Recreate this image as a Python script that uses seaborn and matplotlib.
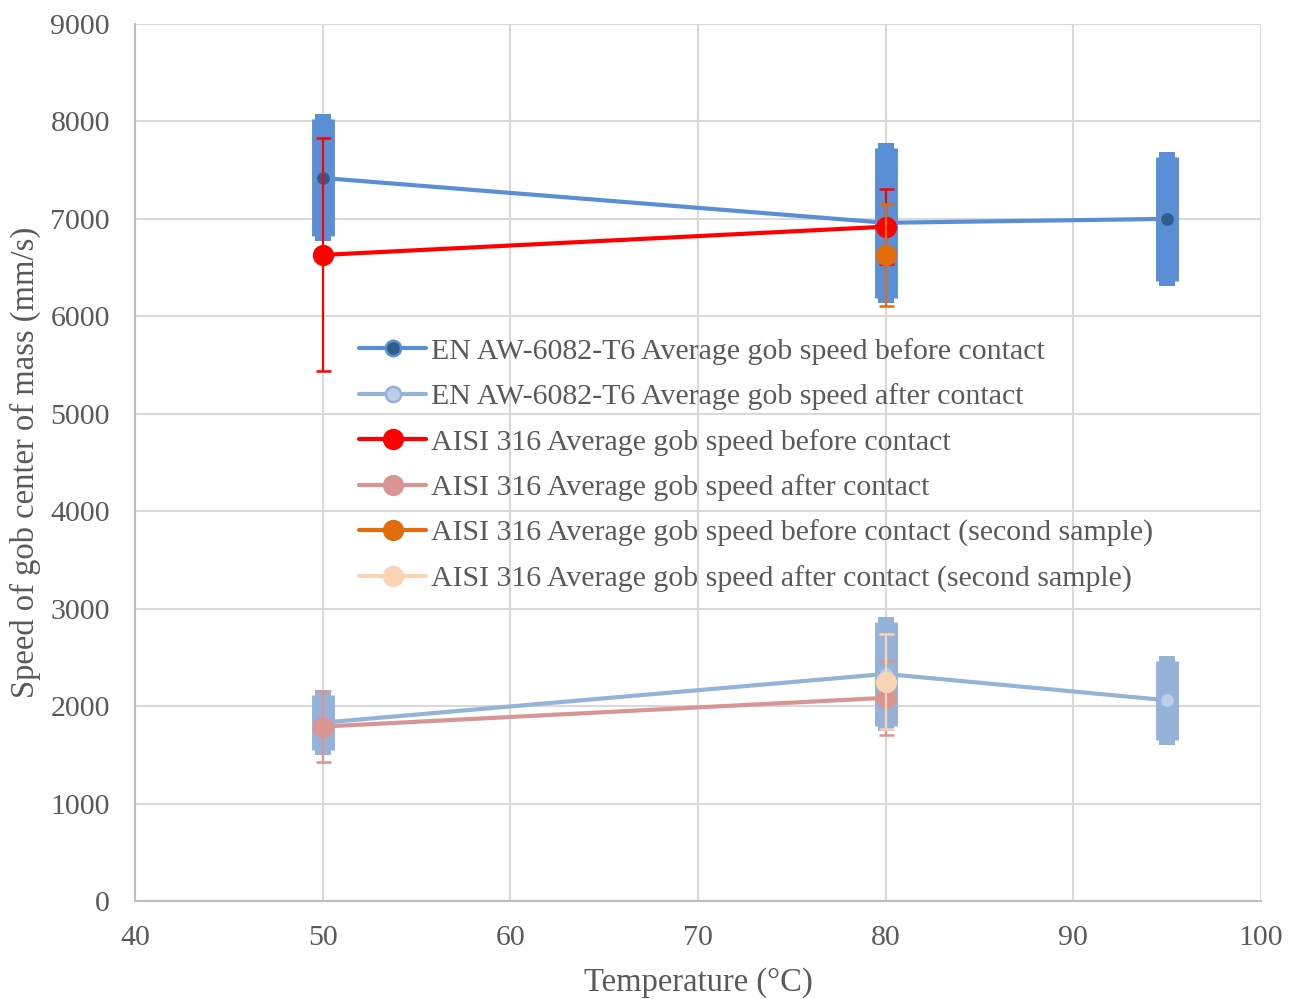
import matplotlib
matplotlib.use("Agg")
import matplotlib.pyplot as plt
import seaborn as sns

# Gob speed measurements (mm/s) versus die temperature (°C)
temps_al = [50, 80, 95]
al_before = [7420, 6960, 7000]
al_before_err = [600, 770, 636]
al_after = [1830, 2330, 2060]
al_after_err = [285, 530, 405]

temps_ss = [50, 80]
ss_before = [6630, 6920]
ss_before_err = [1195, 385]
ss_after = [1790, 2085]
ss_after_err = [360, 380]

temps_ss2 = [80]
ss2_before = [6630]
ss2_before_err = [520]
ss2_after = [2250]
ss2_after_err = [490]

series_labels = [
    "EN AW-6082-T6 Average gob speed before contact",
    "EN AW-6082-T6 Average gob speed after contact",
    "AISI 316 Average gob speed before contact",
    "AISI 316 Average gob speed after contact",
    "AISI 316 Average gob speed before contact (second sample)",
    "AISI 316 Average gob speed after contact (second sample)",
]

x_ticks = [40, 50, 60, 70, 80, 90, 100]
y_ticks = [0, 1000, 2000, 3000, 4000, 5000, 6000, 7000, 8000, 9000]

sns.set_theme(style="whitegrid")
plt.rcParams["font.family"] = ["Liberation Serif", "DejaVu Serif"]
TEXT = "#595959"

fig = plt.figure(figsize=(12.96, 9.99), dpi=100)
ax = fig.add_axes([135 / 1296, 1 - 901 / 999, 1126 / 1296, 877 / 999])
ax.set_facecolor("white")

# thick bars for the aluminium series, thin capped bars for the steel series
thick = dict(elinewidth=16.5, capsize=5.6, capthick=7.2)
thin = dict(elinewidth=1.6, capsize=5.4, capthick=1.8)

styles = [
    dict(x=temps_al, y=al_before, e=al_before_err, c="#5a8fd6", mfc="#2f5d8e",
         mec="#5a8fd6", ms=11, bar=thick),
    dict(x=temps_al, y=al_after, e=al_after_err, c="#95b3d9", mfc="#bccfe8",
         mec="#95b3d9", ms=11, bar=thick),
    dict(x=temps_ss, y=ss_before, e=ss_before_err, c="#ff0000", mfc="#ff0000",
         mec="#ff0000", ms=13.5, bar=thin),
    dict(x=temps_ss, y=ss_after, e=ss_after_err, c="#d99594", mfc="#d99594",
         mec="#d99594", ms=13.5, bar=thin),
    dict(x=temps_ss2, y=ss2_before, e=ss2_before_err, c="#e36c0a", mfc="#e36c0a",
         mec="#e36c0a", ms=13.5, bar=thin),
    dict(x=temps_ss2, y=ss2_after, e=ss2_after_err, c="#fbd4b4", mfc="#fbd4b4",
         mec="#fbd4b4", ms=13.5, bar=thin),
]

for i, (st, lab) in enumerate(zip(styles, series_labels)):
    z = 3 + 2 * i
    ax.errorbar(st["x"], st["y"], yerr=st["e"], fmt="none", ecolor=st["c"],
                zorder=z, **st["bar"])
    sns.lineplot(x=st["x"], y=st["y"], ax=ax, color=st["c"], linewidth=3,
                 marker="o", markersize=st["ms"], markerfacecolor=st["mfc"],
                 markeredgecolor=st["mec"], markeredgewidth=1.8,
                 errorbar=None, label=lab, zorder=z + 1)

ax.set_xlim(40, 100)
ax.set_ylim(0, 9000)
ax.set_xticks(x_ticks)
ax.set_yticks(y_ticks)
ax.grid(True, color="#d9d9d9", linewidth=1.5)
ax.set_axisbelow(True)
for side in ["top", "right"]:
    ax.spines[side].set_visible(False)
for side in ["left", "bottom"]:
    ax.spines[side].set_color("#bfbfbf")
    ax.spines[side].set_linewidth(1.5)

ax.tick_params(axis="both", length=0, labelsize=21.5, labelcolor=TEXT)
ax.tick_params(axis="y", pad=18)
ax.tick_params(axis="x", pad=17)
ax.set_xlabel("Temperature (°C)", fontsize=23.5, color=TEXT, labelpad=12)
ax.set_ylabel("Speed of gob center of mass (mm/s)", fontsize=23.5, color=TEXT,
              labelpad=7)

handles, labels = ax.get_legend_handles_labels()
leg = ax.legend(handles, labels, loc="center left", bbox_to_anchor=(0.175, 0.497),
                frameon=False, fontsize=21.5, labelcolor=TEXT, handlelength=2.25,
                handletextpad=0.17, labelspacing=0.62)

fig.savefig("out.png", dpi=100, facecolor="white")
